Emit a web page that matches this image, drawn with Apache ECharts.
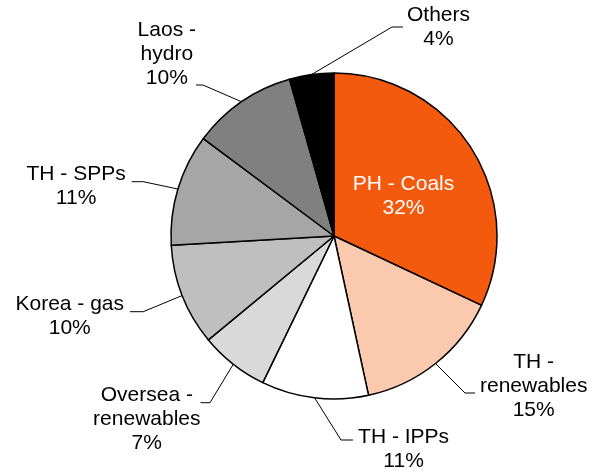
<!DOCTYPE html>
<html>
<head>
<meta charset="utf-8">
<script src="https://cdn.jsdelivr.net/npm/echarts@6/dist/echarts.min.js"></script>
<style>
html, body { margin: 0; padding: 0; background: #fff; }
#pie { width: 601px; height: 475px; }
</style>
</head>
<body>
<div id="pie"></div>
<script>
var names = ['PH - Coals', 'TH -\nrenewables', 'TH - IPPs', 'Oversea -\nrenewables', 'Korea - gas', 'TH - SPPs', 'Laos -\nhydro', 'Others'];
var shares = [32.0, 14.6, 10.6, 6.8, 10.1, 11.1, 10.4, 4.4];
var colors = ['#f35a0d', '#fbcaae', '#ffffff', '#d9d9d9', '#bfbfbf', '#a6a6a6', '#808080', '#000000'];

// where each label box sits (x/y anchor), its padding [t,r,b,l], text width and last leg of the leader line
var boxes = [
  {x: 403.5, y: 196, align: 'center', pad: 0, w: 101.5, len2: 0},
  {x: 475, y: 393, align: 'left', pad: [0, 0, 14, 5], w: 107.4, len2: 10},
  {x: 353, y: 440, align: 'left', pad: [18, 0, 0, 3], w: 95.2, len2: 12},
  {x: 200.5, y: 402.7, align: 'right', pad: [34, 0, 0, 0], w: 107.4, len2: 9.5},
  {x: 130, y: 311.7, align: 'right', pad: [10, 6, 0, 0], w: 108.5, len2: 13.3},
  {x: 131.7, y: 181.7, align: 'right', pad: [10, 6, 0, 0], w: 99.2, len2: 11.6},
  {x: 196, y: 85, align: 'right', pad: [0, 0, 62, 0], w: 58.4, len2: 7},
  {x: 403, y: 27, align: 'left', pad: [0, 0, 0, 4], w: 63, len2: 11}
];

var font = 'Liberation Sans, Arial, sans-serif';

var pieData = shares.map(function (v, i) {
  var b = boxes[i];
  return {
    name: names[i],
    value: v,
    itemStyle: { color: colors[i] },
    label: {
      position: i === 0 ? 'inside' : 'outside',
      width: b.w,
      overflow: 'none',
      padding: b.pad,
      backgroundColor: 'transparent'
    },
    labelLine: { length2: b.len2 }
  };
});

var mycharts = echarts.init(document.getElementById('pie'));
var option = {
  backgroundColor: '#ffffff',
  animation: false,
  series: [{
    type: 'pie',
    center: [334, 236],
    radius: 163,
    startAngle: 90,
    clockwise: true,
    avoidLabelOverlap: false,
    itemStyle: { borderColor: '#000', borderWidth: 1.5 },
    label: {
      overflow: 'none',
      formatter: function (p) {
        return '{' + (p.dataIndex === 0 ? 'w' : 't') + '|' + p.name + '\n' + Math.round(p.percent) + '%}';
      },
      rich: {
        t: { fontSize: 21, lineHeight: 24, align: 'center', color: '#000', fontFamily: font },
        w: { fontSize: 21, lineHeight: 24, align: 'center', color: '#fff', fontFamily: font }
      }
    },
    labelLine: { show: true, length: 15, lineStyle: { color: '#000', width: 1 } },
    labelLayout: function (p) {
      var b = boxes[p.dataIndex];
      return { x: b.x, y: b.y, align: b.align, verticalAlign: 'middle' };
    },
    emphasis: { disabled: true },
    data: pieData
  }]
};
mycharts.setOption(option);
</script>
</body>
</html>
